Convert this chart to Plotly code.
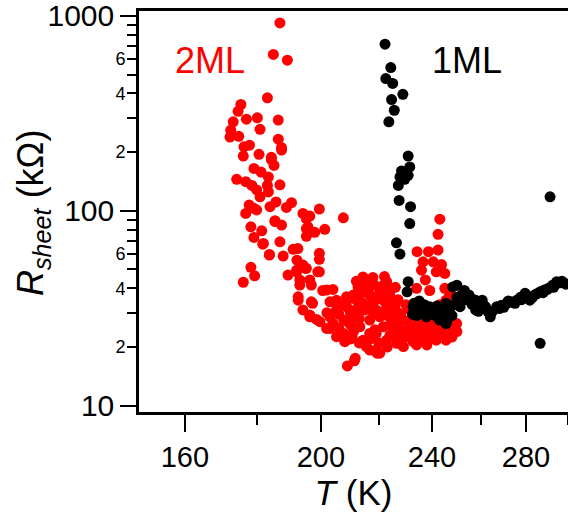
import math
import plotly.graph_objects as go

# ---- data (T in K, R_sheet in kOhm) ----
T_2ML = [187.0, 185.0, 189.3, 183.2, 175.4, 174.6, 177.0, 180.2, 186.5, 173.2,
         181.0, 172.5, 172.3, 174.8, 186.5, 187.5, 176.3, 177.9, 176.1, 180.7,
         184.4, 184.4, 185.2, 187.5, 179.2, 181.3, 183.5, 174.2, 176.8, 178.6,
         183.2, 187.0, 180.0, 183.5, 181.0, 177.8, 185.8, 190.6, 179.2, 184.0,
         189.0, 176.8, 180.0, 194.2, 185.5, 187.5, 195.3, 178.3, 181.5, 179.2,
         195.3, 187.0, 195.3, 181.8, 191.1, 183.8, 188.0, 192.3, 178.3, 179.4,
         176.1, 189.5, 192.2, 193.2, 195.0, 192.7, 196.4, 199.5, 207.5, 185.5,
         195.8, 201.3, 198.0, 182.0, 183.8, 199.5, 199.5, 194.2, 199.5, 196.4,
         201.9, 204.0, 194.2, 196.9, 196.4, 198.6, 201.9, 205.2, 208.0, 214.3,
         216.7, 219.3, 208.9, 211.3,
         214.3, 217.8, 222.8, 224.0, 213.2, 212.0, 209.7, 205.2, 203.0, 207.6,
         203.0, 207.6, 213.2, 219.0, 221.5, 222.8, 226.5, 229.0, 232.7, 236.5,
         234.0, 230.3, 226.5, 216.7, 220.3, 225.3, 231.4, 236.5, 239.1, 241.7,
         245.6, 244.3, 248.3, 245.6, 214.3, 217.8, 221.5, 222.8, 220.3, 216.7,
         208.6, 205.2, 212.0, 229.0, 232.7, 236.5,
         243.1, 242.4, 234.2, 238.6, 242.4, 236.5, 240.5, 243.8, 235.9, 241.7,
         245.1, 237.4, 234.0, 239.1, 245.1, 245.6, 249.2, 242.4, 245.6, 249.9,
         220.3,
         192.6, 195.3, 192.2, 199.0, 193.2, 196.9, 200.6, 192.7, 197.3, 203.0,
         196.4, 199.7, 208.0, 205.2, 208.6, 212.0, 214.3, 212.6, 216.7, 222.8,
         213.2, 216.7, 219.0, 215.5, 211.6, 226.5,
         227.0, 230.0, 233.0, 228.0, 235.0, 238.0, 240.0, 210.0, 218.0, 224.0,
         227.0, 210.5, 218.5, 223.0, 230.5, 234.5, 239.5,
         204.0, 206.0, 209.0, 211.0, 213.0, 215.0, 217.0, 219.0, 221.0, 223.0,
         225.0, 224.0, 227.0, 229.0, 231.0, 233.0, 235.0, 237.0, 239.0, 241.0,
         243.0, 246.0, 248.0, 214.0, 218.0, 221.0, 215.0, 211.0, 219.0, 223.0,
         226.0, 210.0, 213.0, 217.0, 220.0, 223.0, 228.0, 234.0, 238.0, 206.0,
         210.0, 224.0, 226.0, 202.0, 206.0, 209.0, 212.0, 222.0, 228.0, 232.0,
         238.0, 243.0, 247.0, 250.0, 243.0, 247.0]
R_2ML = [920, 634, 593, 380, 351, 324, 295, 300, 292, 286,
         262, 259, 239, 241, 233, 211, 213, 217, 191, 195,
         188, 183, 171, 205, 165, 158, 149, 145, 141, 135,
         135, 136, 128, 125, 118, 107, 111, 110, 103, 105,
         104, 97, 101, 97, 89, 84.5, 91, 82.8, 78.9, 73,
         81, 69.3, 74, 67.4, 63.4, 59.3, 58.6, 55.8, 51.3, 46.4,
         43.0, 46.8, 49.6, 44.2, 50.6, 36.2, 94, 102, 92, 88,
         82.8, 80.3, 77.5, 68, 59.7, 60.5, 56.4, 52.7, 48.6, 44.2,
         39.2, 39.5, 31.0, 34.1, 29.2, 27.7, 24.9, 22.6, 21.3, 21.7,
         19.3, 18.6, 16.0, 17.0,
         45, 45.5, 43.3, 39, 40, 34.8, 31, 31, 28.6, 27.5,
         24.9, 23.5, 25.4, 23.5, 25.4, 21.7, 20.9, 20.1, 21.3, 21.7,
         25.4, 24.5, 24.0, 27.5, 28.6, 27.5, 27.5, 26.4, 24.5, 21.7,
         21.7, 24.5, 26.4, 28.6, 33.5, 36.2, 34.8, 32.2, 39, 40.7,
         36.2, 34.8, 28.6, 27.5, 28.6, 31,
         90.6, 75.7, 61.7, 61.7, 62.9, 54.7, 54.7, 53, 49.6, 48.6,
         47.7, 44.2, 40, 39, 40, 34.8, 26.4, 23.5, 22.2, 26.4,
         18.6,
         64, 50.7, 48.6, 48.6, 41.6, 41.6, 39, 34.8, 33.5, 34.1,
         28.6, 27.0, 21.7, 30.4, 32.2, 31.0, 45.8, 40.7, 36.9, 37.7,
         33.5, 23.5, 19.3, 20.1, 17.5, 22.6,
         30, 33, 24, 22, 23, 22, 27, 26, 30, 26,
         35, 22.5, 24.5, 29.5, 31.5, 29.5, 23,
         26.5, 29.5, 27, 24, 28, 31, 33, 31, 30, 29,
         31, 23, 25.5, 23, 22.5, 26.5, 28.5, 24, 22.5, 25.5,
         23, 24.5, 22.5, 38, 42, 41, 43, 37, 35, 34,
         33, 22, 21, 22, 21, 20, 21.5, 20.5, 20.5, 25,
         30, 36.5, 40.5, 30, 33, 35, 43.5, 46, 29, 30.5,
         27.5, 29.5, 27, 24, 33, 37]

T_1ML = [222.2, 224.3, 222.5, 225.0, 228.8, 224.6, 225.6, 223.6, 230.8, 231.4,
         228.3, 227.7, 230.8, 227.1, 229.5, 227.4, 231.7, 231.4, 226.4, 227.7,
         230.8, 230.4, 232.7,
         248.3, 253.1, 257.8, 245.6, 239.1, 235.3, 237.8, 243.1, 245.6, 251.3,
         254.6, 233.5, 236.0, 241.0, 244.0, 247.0, 250.0, 248.0, 240.0, 234.0,
         256.4, 257.8, 260.6, 262.0, 264.1, 266.9, 269.0, 271.3, 273.5, 275.8,
         277.5, 279.6, 281.8, 284.0, 286.6, 288.5, 290.5, 292.5, 294.5, 296.5,
         298.5, 259.0, 261.0, 268.0, 291.3, 286.6,
         233.0, 235.0, 237.0, 239.0, 242.0, 244.0, 246.0, 249.0, 251.0, 252.0,
         250.0, 255.0, 256.0, 258.0, 246.0, 242.0, 238.0, 232.5, 260.0, 263.0,
         265.0, 270.0, 272.0, 275.0, 278.0, 283.0, 285.0, 288.0, 290.0, 293.0,
         295.0, 297.0, 299.0]
R_1ML = [716, 543, 477, 450, 396, 372, 328, 286, 191, 168,
         160, 149, 152, 135, 145, 113, 105, 86, 68.5, 60,
         43.3, 38.4, 32.2,
         40.7, 39, 34.8, 33.5, 32.2, 31, 28.6, 27.5, 26.4, 32.2,
         34.8, 30, 32.5, 31, 30, 31.5, 36, 29, 29.5, 29,
         33, 31, 34.8, 32.2, 28.6, 32.2, 32.8, 33.5, 34.0, 34.8,
         36, 37.7, 34.8, 37, 38.4, 39.2, 40, 41.5, 43.3, 42.8,
         42.4, 30.5, 33, 31.5, 118, 20.9,
         33.5, 34.5, 33, 30, 32.5, 28.5, 30, 33, 35, 37,
         41.5, 37, 35.5, 33, 27.5, 28.5, 31.5, 29.5, 31.5, 30.5,
         30.5, 32, 34.5, 33.5, 35, 36, 37.5, 38, 39.5, 40.5,
         42.5, 43.5, 42]

x_major = [160, 200, 240, 280]
x_minor = [180, 220, 260, 300]
y_major = [10, 100, 1000]
y_minor = [20, 30, 40, 50, 60, 70, 80, 90, 200, 300, 400, 500, 600, 700, 800, 900]
y_minor_lab = [20, 40, 60, 200, 400, 600]
y_minor_txt = ["2", "4", "6", "2", "4", "6"]

FONT = "Liberation Sans, Arial, sans-serif"

fig = go.Figure()
fig.add_trace(go.Scatter(x=T_2ML, y=R_2ML, mode="markers", name="2ML",
                         marker=dict(color="#ff0000", size=11, line=dict(width=0)),
                         showlegend=False))
fig.add_trace(go.Scatter(x=T_1ML, y=R_1ML, mode="markers", name="1ML",
                         marker=dict(color="#000000", size=11, line=dict(width=0)),
                         showlegend=False))
# helper trace for the second (label) y axis
fig.add_trace(go.Scatter(x=[None], y=[None], yaxis="y2", showlegend=False, hoverinfo="skip"))

xr = [math.log10(148.4), math.log10(300.0)]
yr = [0.9677, 3.0251]

fig.update_layout(
    width=568, height=522,
    margin=dict(l=139, r=0, t=11, b=110),
    paper_bgcolor="white", plot_bgcolor="white",
    font=dict(family=FONT, color="black"),
    xaxis=dict(type="log", range=xr, tickmode="array", tickvals=x_major,
               ticktext=[str(v) for v in x_major],
               ticks="outside", ticklen=17, tickwidth=2, tickcolor="black",
               minor=dict(tickmode="array", tickvals=x_minor, ticklen=10,
                          tickwidth=2, tickcolor="black", ticks="outside", showgrid=False),
               showline=True, linewidth=2.5, linecolor="black", mirror=True,
               showgrid=False, zeroline=False, ticklabeloverflow="allow",
               tickfont=dict(family=FONT, size=29),
               title=dict(text="<i>T</i> (K)", font=dict(family=FONT, size=35), standoff=8)),
    yaxis=dict(type="log", range=yr, tickmode="array", tickvals=y_major,
               ticktext=[str(v) for v in y_major],
               ticks="outside", ticklen=16, tickwidth=2, tickcolor="black",
               minor=dict(tickmode="array", tickvals=y_minor, ticklen=9,
                          tickwidth=2, tickcolor="black", ticks="outside", showgrid=False),
               showline=True, linewidth=2.5, linecolor="black", mirror=False,
               showgrid=False, zeroline=False, ticklabeloverflow="allow",
               tickfont=dict(family=FONT, size=30)),
    yaxis2=dict(type="log", range=yr, overlaying="y", side="left",
                tickmode="array", tickvals=y_minor_lab, ticktext=y_minor_txt,
                ticks="outside", ticklen=9, tickwidth=2, tickcolor="black",
                showline=False, showgrid=False, zeroline=False, ticklabeloverflow="allow",
                tickfont=dict(family=FONT, size=18)),
    annotations=[
        dict(text="2ML", xref="paper", yref="paper", x=(173 - 139) / 429, y=(412 - 60) / 401,
             xanchor="left", yanchor="middle", showarrow=False,
             font=dict(family=FONT, size=36, color="#ff0000")),
        dict(text="1ML", xref="paper", yref="paper", x=(430 - 139) / 429, y=(412 - 60) / 401,
             xanchor="left", yanchor="middle", showarrow=False,
             font=dict(family=FONT, size=36, color="black")),
        dict(text="<i>R</i><sub><i>sheet</i></sub> (kΩ)", xref="paper", yref="paper",
             x=(33 - 139) / 429, y=(412 - 213) / 401, textangle=-90,
             xanchor="center", yanchor="middle", showarrow=False,
             font=dict(family=FONT, size=36, color="black")),
    ],
)

fig.write_html("out.html")
